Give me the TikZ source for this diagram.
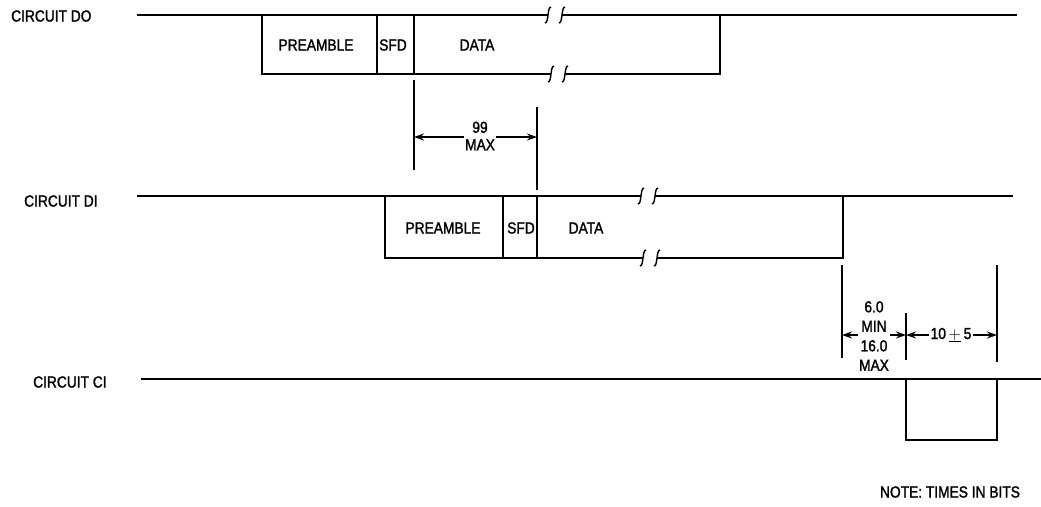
\documentclass[tikz,border=0pt]{standalone}
\usepackage{fontspec}
\setmainfont{Liberation Sans}[FakeStretch=0.86, FakeBold=1.5]
\usepackage{tikz}
\usetikzlibrary{arrows.meta}
\newcommand{\lblfont}{\fontsize{16}{19.5}\selectfont}
\tikzset{
  brk/.pic={
    \draw[line width=1.4pt] (3,-8) .. controls (-1,-8) and (1,8) .. (-3,8);
  },
}

\begin{document}
\begin{tikzpicture}[x=1pt, y=-1pt, >={Stealth[length=10pt,width=7pt]},
    every node/.style={font=\lblfont, inner sep=1pt},
    sigline/.style={line width=1.8pt},
    dimline/.style={line width=1.4pt},
    lbl/.style={fill=white, align=center, inner sep=1.5pt}]
    \useasboundingbox (0,0) rectangle (1041,506);

    % labels
    \node[anchor=west] (lblDO) at (10,16) {CIRCUIT DO};
    \node[anchor=west] (lblDI) at (23,201) {CIRCUIT DI};
    \node[anchor=west] (lblCI) at (32,382) {CIRCUIT CI};
    \node (note) at (950,492) {NOTE: TIMES IN BITS};

    % circuit DO
    \draw[sigline] (137,15) -- (548,15);
    \draw[sigline] (562,15) -- (1017,15);
    \draw[sigline] (262,15) -- (262,74) -- (551,74);
    \draw[sigline] (565,74) -- (720,74) -- (720,15);
    \draw[sigline] (377,15) -- (377,74);
    \draw[sigline] (414,15) -- (414,74);
    \pic at (548,15) {brk};
    \pic at (562,15) {brk};
    \pic at (551,74) {brk};
    \pic at (565,74) {brk};
    \node (preDO) at (316,45) {PREAMBLE};
    \node (sfdDO) at (393,45) {SFD};
    \node (dataDO) at (477,45) {DATA};

    % circuit DI
    \draw[sigline] (137,196) -- (641,196);
    \draw[sigline] (655,196) -- (1013,196);
    \draw[sigline] (385,196) -- (385,258) -- (643,258);
    \draw[sigline] (657,258) -- (843,258) -- (843,196);
    \draw[sigline] (503,196) -- (503,258);
    \draw[sigline] (537,196) -- (537,258);
    \pic at (641,196) {brk};
    \pic at (655,196) {brk};
    \pic at (643,258) {brk};
    \pic at (657,258) {brk};
    \node (preDI) at (443,228) {PREAMBLE};
    \node (sfdDI) at (521,228) {SFD};
    \node (dataDI) at (586,228) {DATA};

    % circuit CI
    \draw[sigline] (141,379) -- (1041,379);
    \draw[sigline] (906,379) -- (906,440) -- (997,440) -- (997,379);

    % dimensions
    \coordinate (endDO) at (414,137);
    \coordinate (startDI) at (537,137);
    \draw[dimline] (414,80) -- (414,170);
    \draw[dimline] (537,107) -- (537,190);
    \draw[dimline, <->] (endDO) -- (startDI);
    \node[lbl] (maxA) at (480,136) {99\\[-2pt]MAX};

    \coordinate (endDI) at (842,335);
    \coordinate (startCI) at (906,335);
    \coordinate (endCI) at (997,335);
    \draw[dimline] (842,265) -- (842,358);
    \draw[dimline] (906,313) -- (906,360);
    \draw[dimline] (997,265) -- (997,362);
    \draw[dimline, <->] (endDI) -- (startCI);
    \draw[dimline, <->] (startCI) -- (endCI);
    \node[lbl] (minmax) at (874,336) {6.0\\MIN\\16.0\\MAX};
    \node[lbl] (tol) at (951,335) {10\,$\underline{+}$\,5};
\end{tikzpicture}
\end{document}
